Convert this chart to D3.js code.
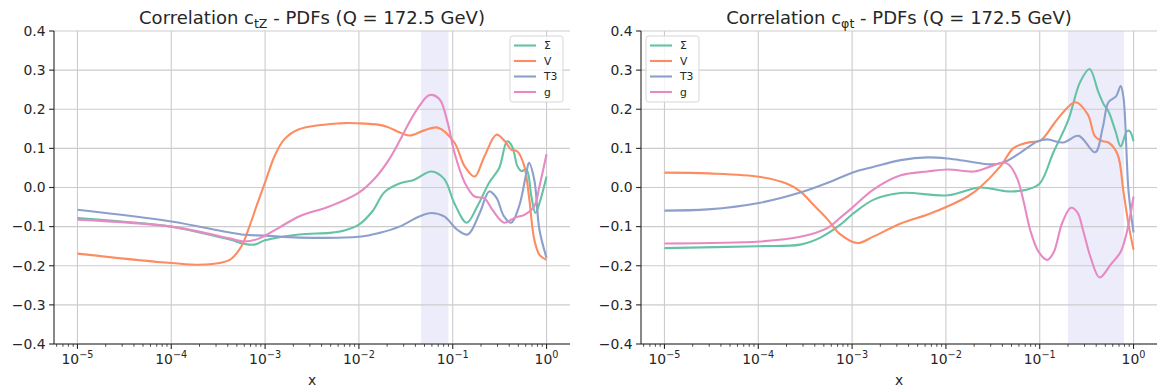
<!DOCTYPE html>
<html lang="en">
<head>
<meta charset="UTF-8">
<title>Correlation - PDFs</title>
<script src="https://d3js.org/d3.v7.min.js"></script>
<style>
    body { margin: 0; background: #fff; }
    svg text { font-family: "DejaVu Sans", sans-serif; fill: #262626; }
</style>
</head>
<body>
<div id="chart"></div>
<script>
// legend entries (Set2 palette)
const seriesNames = ["Σ", "V", "T3", "g"];
const seriesColors = ["#66c2a5", "#fc8d62", "#8da0cb", "#e78ac3"];

const yTicks = [-0.4, -0.3, -0.2, -0.1, 0.0, 0.1, 0.2, 0.3, 0.4];
const xTicks = [1e-5, 1e-4, 1e-3, 1e-2, 1e-1, 1];
const xTickExp = ["−5", "−4", "−3", "−2", "−1", "0"];

// left panel: c_tZ, points are [x, correlation]
const ctzSigma = [[1e-5,-0.078],[1e-4,-0.10],[2e-4,-0.115],[4.2e-4,-0.133],[6e-4,-0.144],[7.7e-4,-0.146],[1e-3,-0.135],
    [2.3e-3,-0.12],[4.9e-3,-0.116],[7e-3,-0.11],[1e-2,-0.095],[1.4e-2,-0.06],[1.87e-2,-0.012],[2.7e-2,0.01],[3.9e-2,0.02],
    [5.9e-2,0.041],[8.1e-2,0.022],[0.104,-0.04],[0.141,-0.09],[0.183,-0.048],[0.245,0.013],[0.313,0.05],[0.38,0.118],
    [0.43,0.105],[0.49,0.054],[0.54,0.042],[0.61,0.046],[0.69,-0.023],[0.76,-0.065],[0.84,-0.04],[1.0,0.028]];
const ctzV = [[1e-5,-0.169],[1e-4,-0.193],[2.26e-4,-0.197],[4.2e-4,-0.185],[5.6e-4,-0.15],[6.8e-4,-0.10],[8.3e-4,-0.04],
    [1e-3,0.013],[1.26e-3,0.08],[1.6e-3,0.123],[2.3e-3,0.149],[6.2e-3,0.164],[1e-2,0.164],[1.66e-2,0.16],[2.1e-2,0.153],
    [2.7e-2,0.141],[3.45e-2,0.133],[5e-2,0.146],[6.9e-2,0.153],[0.104,0.115],[0.134,0.054],[0.171,0.028],[0.218,0.08],
    [0.292,0.135],[0.36,0.118],[0.42,0.097],[0.49,0.092],[0.58,0.054],[0.65,-0.023],[0.74,-0.133],[0.84,-0.172],[1.0,-0.185]];
const ctzT3 = [[1e-5,-0.057],[1e-4,-0.087],[5.6e-4,-0.12],[1e-3,-0.123],[2.3e-3,-0.128],[1e-2,-0.126],[1.66e-2,-0.116],
    [2.7e-2,-0.1],[4.4e-2,-0.074],[5.9e-2,-0.065],[8.1e-2,-0.074],[0.112,-0.108],[0.145,-0.12],[0.194,-0.065],[0.245,-0.01],
    [0.292,-0.026],[0.352,-0.074],[0.42,-0.09],[0.51,-0.048],[0.61,0.038],[0.65,0.063],[0.74,0.02],[0.84,-0.108],[1.0,-0.18]];
const ctzG = [[1e-5,-0.082],[1e-4,-0.10],[4.2e-4,-0.13],[6e-4,-0.138],[8.7e-4,-0.13],[1.4e-3,-0.103],[2.3e-3,-0.074],
    [4.9e-3,-0.048],[1e-2,-0.013],[1.5e-2,0.025],[2.1e-2,0.072],[2.7e-2,0.118],[3.45e-2,0.167],[4.4e-2,0.208],[5.6e-2,0.236],
    [7.2e-2,0.226],[8.8e-2,0.167],[0.104,0.09],[0.134,0.013],[0.171,-0.023],[0.218,-0.028],[0.263,-0.056],[0.352,-0.09],
    [0.46,-0.077],[0.58,-0.07],[0.74,-0.048],[0.84,0.003],[1.0,0.085]];

// right panel: c_phi t
const cptSigma = [[1e-5,-0.155],[1e-4,-0.15],[2.8e-4,-0.146],[4.6e-4,-0.128],[7.5e-4,-0.095],[1e-3,-0.069],[1.7e-3,-0.031],
    [3.3e-3,-0.014],[1.05e-2,-0.02],[2.3e-2,0.0],[4.6e-2,-0.01],[7.4e-2,-0.005],[0.1,0.01],[0.14,0.09],[0.2,0.17],
    [0.27,0.27],[0.34,0.303],[0.42,0.245],[0.48,0.213],[0.54,0.195],[0.64,0.145],[0.73,0.105],[0.85,0.144],[0.91,0.144],[1.0,0.118]];
const cptV = [[1e-5,0.038],[3e-5,0.036],[1.05e-4,0.027],[2e-4,0.01],[2.8e-4,-0.01],[3.9e-4,-0.045],[5.5e-4,-0.082],
    [7.5e-4,-0.12],[1.14e-3,-0.142],[1.7e-3,-0.125],[3.3e-3,-0.092],[6.4e-3,-0.069],[1.05e-2,-0.048],[1.7e-2,-0.023],
    [2.3e-2,0.0],[3.8e-2,0.054],[5.2e-2,0.1],[6.3e-2,0.11],[7.9e-2,0.116],[0.102,0.12],[0.14,0.161],[0.174,0.19],
    [0.24,0.218],[0.325,0.187],[0.39,0.13],[0.47,0.118],[0.54,0.115],[0.675,0.085],[0.78,-0.01],[0.885,-0.095],[1.0,-0.159]];
const cptT3 = [[1e-5,-0.059],[2.9e-5,-0.056],[1.05e-4,-0.039],[2.8e-4,-0.013],[5.5e-4,0.012],[1e-3,0.038],[1.7e-3,0.053],
    [3.3e-3,0.07],[6.4e-3,0.077],[1.05e-2,0.074],[1.7e-2,0.067],[3e-2,0.059],[4.1e-2,0.064],[6.3e-2,0.09],[9.5e-2,0.118],
    [0.12,0.123],[0.178,0.115],[0.26,0.132],[0.39,0.09],[0.47,0.154],[0.54,0.218],[0.65,0.233],[0.73,0.259],[0.78,0.231],
    [0.885,-0.01],[1.0,-0.115]];
const cptG = [[1e-5,-0.143],[1.05e-4,-0.138],[2.8e-4,-0.126],[5.5e-4,-0.103],[7.5e-4,-0.077],[1e-3,-0.052],[1.7e-3,-0.005],
    [3.3e-3,0.031],[6.4e-3,0.041],[1.05e-2,0.046],[2e-2,0.041],[3e-2,0.054],[4.1e-2,0.064],[4.7e-2,0.058],[5.8e-2,0.021],
    [6.8e-2,-0.04],[7.9e-2,-0.108],[9.7e-2,-0.164],[0.12,-0.185],[0.14,-0.167],[0.174,-0.09],[0.215,-0.052],[0.253,-0.064],
    [0.29,-0.11],[0.35,-0.18],[0.435,-0.23],[0.57,-0.197],[0.73,-0.164],[0.85,-0.113],[1.0,-0.023]];

// shaded x-ranges
const ctzBand = [0.046, 0.09];
const cptBand = [0.2, 0.79];

const width = 1159, height = 391;
const svg = d3.select("#chart").append("svg")
    .attr("width", width)
    .attr("height", height);

const panels = [
    {left: 54, right: 570, sub: "tZ", band: ctzBand, series: [ctzSigma, ctzV, ctzT3, ctzG], legendX: 510},
    {left: 641, right: 1157, sub: "φt", band: cptBand, series: [cptSigma, cptV, cptT3, cptG], legendX: 646}
];

const plotTop = 31, plotBottom = 344;
const ink = "#262626";

panels.forEach(p => {
    const x = d3.scaleLog().domain([Math.pow(10, -5.25), Math.pow(10, 0.25)]).range([p.left, p.right]);
    const y = d3.scaleLinear().domain([-0.4, 0.4]).range([plotBottom, plotTop]);
    const g = svg.append("g");

    // shaded band
    g.append("rect")
        .attr("x", x(p.band[0]))
        .attr("y", plotTop)
        .attr("width", x(p.band[1]) - x(p.band[0]))
        .attr("height", plotBottom - plotTop)
        .attr("fill", "#ececfb");

    // grid
    g.selectAll(".hgrid").data(yTicks).enter().append("line")
        .attr("x1", p.left).attr("x2", p.right)
        .attr("y1", d => y(d)).attr("y2", d => y(d))
        .attr("stroke", "#cccccc").attr("stroke-width", 1.1);
    g.selectAll(".vgrid").data(xTicks).enter().append("line")
        .attr("x1", d => x(d)).attr("x2", d => x(d))
        .attr("y1", plotTop).attr("y2", plotBottom)
        .attr("stroke", "#cccccc").attr("stroke-width", 1.1);

    // curves
    const line = d3.line()
        .x(d => x(d[0]))
        .y(d => y(d[1]))
        .curve(d3.curveCatmullRom.alpha(0.5));
    p.series.forEach((s, i) => {
        g.append("path")
            .attr("d", line(s))
            .attr("fill", "none")
            .attr("stroke", seriesColors[i])
            .attr("stroke-width", 2.1);
    });

    // spines
    g.append("line").attr("x1", p.left).attr("x2", p.left).attr("y1", plotTop).attr("y2", plotBottom)
        .attr("stroke", ink).attr("stroke-width", 1.1);
    g.append("line").attr("x1", p.left).attr("x2", p.right).attr("y1", plotBottom).attr("y2", plotBottom)
        .attr("stroke", ink).attr("stroke-width", 1.1);

    // y ticks
    g.selectAll(".ytick").data(yTicks).enter().append("line")
        .attr("x1", p.left - 4.9).attr("x2", p.left)
        .attr("y1", d => y(d)).attr("y2", d => y(d))
        .attr("stroke", ink).attr("stroke-width", 1.1);
    g.selectAll(".ylab").data(yTicks).enter().append("text")
        .attr("x", p.left - 8.5)
        .attr("y", d => y(d))
        .attr("dy", "0.35em")
        .attr("text-anchor", "end")
        .style("font-size", "13.9px")
        .text(d => d3.format(".1f")(d).replace("-", "−"));

    // x ticks, major and minor
    const minor = [];
    for (let k = -6; k <= 0; k++) {
        for (let m = 2; m <= 9; m++) {
            const v = m * Math.pow(10, k);
            if (v > x.domain()[0] && v < x.domain()[1]) minor.push(v);
        }
    }
    g.selectAll(".xminor").data(minor).enter().append("line")
        .attr("x1", d => x(d)).attr("x2", d => x(d))
        .attr("y1", plotBottom).attr("y2", plotBottom + 2.8)
        .attr("stroke", ink).attr("stroke-width", 0.8);
    g.selectAll(".xtick").data(xTicks).enter().append("line")
        .attr("x1", d => x(d)).attr("x2", d => x(d))
        .attr("y1", plotBottom).attr("y2", plotBottom + 4.9)
        .attr("stroke", ink).attr("stroke-width", 1.1);
    const xl = g.selectAll(".xlab").data(xTicks).enter().append("text")
        .attr("x", d => x(d))
        .attr("y", 364)
        .attr("text-anchor", "middle")
        .style("font-size", "13.9px");
    xl.append("tspan").text("10");
    xl.append("tspan").attr("dy", -6).style("font-size", "9.7px").text((d, i) => xTickExp[i]);

    // axis label
    g.append("text")
        .attr("x", (p.left + p.right) / 2)
        .attr("y", 385)
        .attr("text-anchor", "middle")
        .style("font-size", "13.9px")
        .text("x");

    // title
    const t = g.append("text")
        .attr("x", (p.left + p.right) / 2)
        .attr("y", 24)
        .attr("text-anchor", "middle")
        .style("font-size", "18px");
    t.append("tspan").text("Correlation c");
    t.append("tspan").attr("dy", 4).style("font-size", "12.6px").text(p.sub);
    t.append("tspan").attr("dy", -4).text(" - PDFs (Q = 172.5 GeV)");

    // legend
    const lg = g.append("g").attr("transform", `translate(${p.legendX},36)`);
    lg.append("rect")
        .attr("width", 53).attr("height", 66)
        .attr("rx", 2.5)
        .attr("fill", "white").attr("fill-opacity", 0.8)
        .attr("stroke", "#d6d6d6").attr("stroke-width", 1);
    seriesNames.forEach((name, i) => {
        const ry = 9.5 + i * 15.5;
        lg.append("line")
            .attr("x1", 4).attr("x2", 26)
            .attr("y1", ry).attr("y2", ry)
            .attr("stroke", seriesColors[i]).attr("stroke-width", 2.1);
        lg.append("text")
            .attr("x", 34).attr("y", ry)
            .attr("dy", "0.35em")
            .style("font-size", "10.8px")
            .text(name);
    });
});
</script>
</body>
</html>
